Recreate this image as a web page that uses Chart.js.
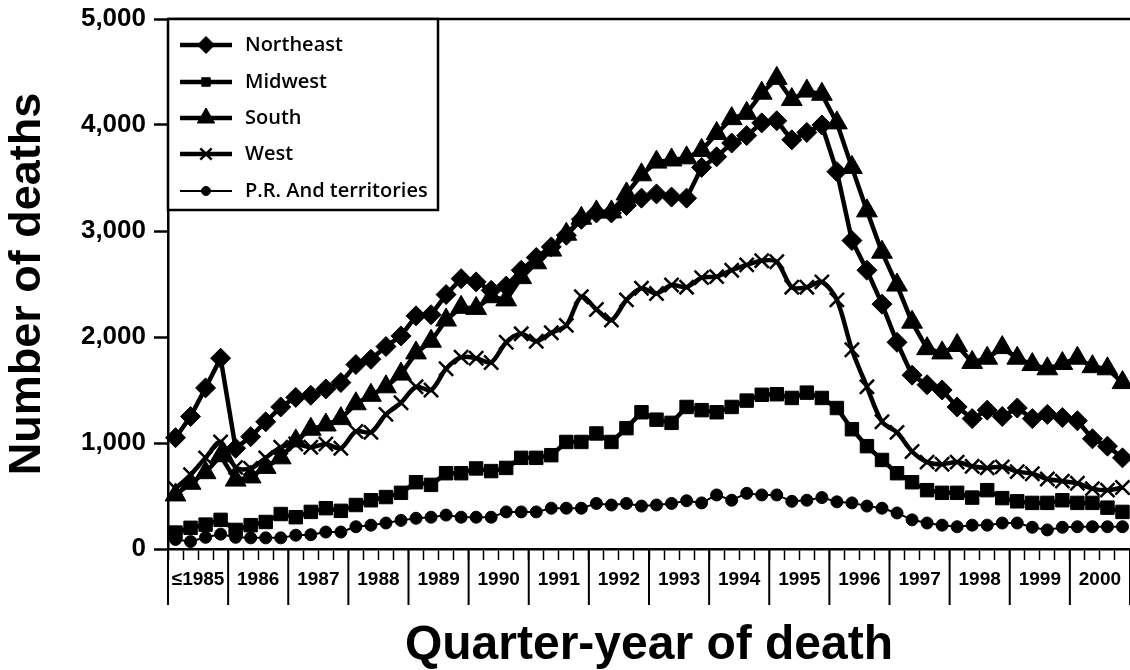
<!DOCTYPE html>
<html><head><meta charset="utf-8">
<script src="https://cdn.jsdelivr.net/npm/chart.js@4"></script>
<style>html,body{margin:0;padding:0;background:#fff;overflow:hidden;}canvas{display:block;}</style>
</head><body>
<canvas id="c" width="1130" height="670"></canvas>
<script>
// Year groups (four quarters each)
const years = ['≤1985','1986','1987','1988','1989','1990','1991','1992','1993','1994','1995','1996','1997','1998','1999','2000'];
const yTicks = [0, 1000, 2000, 3000, 4000, 5000];

const northeast = [1050,1250,1520,1800, 950,1060,1200,1340, 1430,1450,1510,1570, 1740,1790,1910,2010,
  2200,2210,2400,2550, 2520,2440,2480,2630, 2750,2850,2960,3110, 3170,3170,3240,3310,
  3350,3320,3310,3600, 3700,3830,3900,4020, 4040,3860,3930,4000, 3560,2910,2630,2310,
  1950,1640,1550,1500, 1340,1230,1310,1250, 1330,1230,1270,1240, 1210,1040,970,860];
const midwest = [155,200,230,275, 180,225,255,330, 300,350,385,360, 415,460,490,530,
  630,605,715,715, 760,735,765,860, 860,885,1010,1010, 1090,1010,1140,1290,
  1220,1190,1340,1310, 1290,1340,1400,1455, 1460,1425,1475,1425, 1330,1130,970,840,
  715,630,555,530, 530,485,555,480, 450,435,435,460, 435,435,390,350];
const south = [510,620,720,880, 650,680,770,860, 1020,1130,1170,1230, 1370,1450,1530,1650,
  1850,1960,2160,2280, 2270,2380,2350,2560, 2700,2820,2970,3120, 3180,3180,3350,3530,
  3650,3670,3690,3760, 3920,4060,4110,4300, 4440,4240,4320,4290, 4020,3600,3190,2800,
  2490,2140,1890,1850, 1920,1760,1800,1900, 1800,1740,1700,1750, 1800,1720,1700,1570];
const west = [570,700,860,1010, 770,760,860,960, 990,960,990,950, 1110,1100,1270,1380,
  1530,1500,1700,1810, 1800,1760,1950,2030, 1960,2040,2110,2380, 2260,2160,2350,2460,
  2410,2490,2470,2560, 2570,2630,2680,2720, 2710,2470,2470,2520, 2350,1880,1530,1200,
  1100,920,820,800, 820,780,765,775, 730,710,660,640, 620,570,555,580];
const prTerritories = [90,70,110,140, 110,105,105,105, 130,135,160,160, 210,225,245,270,
  290,300,320,300, 300,300,350,350, 350,385,385,385, 430,415,430,405,
  415,430,455,435, 510,460,525,510, 510,450,460,485, 445,435,405,385,
  340,275,245,225, 210,225,225,245, 245,205,180,205, 210,210,210,210];

const toXY = arr => arr.map((v, i) => ({x: i + 0.5, y: v}));
const BLACK = '#000';
const TICK_FONT = "'Liberation Sans', Arial, sans-serif";

function ds(label, data, style, radius, width, pbw, tension, legendRadius) {
  return {
    label, data: toXY(data), borderColor: BLACK, backgroundColor: BLACK,
    borderWidth: width, pointStyle: style, pointRadius: radius, pointHoverRadius: radius,
    pointBackgroundColor: BLACK, pointBorderColor: BLACK, pointBorderWidth: pbw,
    tension: tension, clip: false, legendRadius
  };
}

const datasets = [
  ds('Northeast', northeast, 'rectRot', 10, 4.5, 1, 0, 8.5),
  ds('Midwest', midwest, 'rect', 9.5, 4.5, 1, 0, 6),
  ds('South', south, 'triangle', 12, 4.5, 1, 0, 10),
  ds('West', west, 'crossRot', 10, 4.5, 2.5, 0.3, 8),
  ds('P.R. And territories', prTerritories, 'circle', 6, 2, 1, 0, 4.5)
];

const decorPlugin = {
  id: 'decor',
  afterDraw(chart) {
    const {ctx, chartArea: {left, right, top, bottom}, scales: {x}} = chart;
    ctx.save();
    ctx.strokeStyle = BLACK;
    ctx.lineCap = 'butt';
    // top frame line
    ctx.lineWidth = 2.5;
    ctx.beginPath(); ctx.moveTo(left, top); ctx.lineTo(right, top); ctx.stroke();
    // long year separators
    ctx.lineWidth = 2;
    for (let k = 0; k <= years.length; k++) {
      const px = x.getPixelForValue(4 * k);
      ctx.beginPath(); ctx.moveTo(px, bottom); ctx.lineTo(px, 605); ctx.stroke();
    }
    // legend box
    const bx = left, by = top, bw = 270, bh = 191;
    ctx.fillStyle = '#fff';
    ctx.fillRect(bx, by, bw, bh);
    ctx.lineWidth = 2.5;
    ctx.strokeRect(bx, by, bw, bh);
    const rows = [45, 82, 118, 154, 191];
    chart.data.datasets.forEach((d, i) => {
      const yy = rows[i];
      ctx.strokeStyle = BLACK; ctx.fillStyle = BLACK;
      ctx.lineWidth = d.borderWidth;
      ctx.beginPath(); ctx.moveTo(bx + 12, yy); ctx.lineTo(bx + 64, yy); ctx.stroke();
      ctx.lineWidth = d.pointBorderWidth;
      const opts = {pointStyle: d.pointStyle, radius: d.legendRadius, rotation: 0, borderWidth: d.pointBorderWidth};
      if (Chart.helpers && Chart.helpers.drawPoint) {
        Chart.helpers.drawPoint(ctx, opts, bx + 38, yy);
      }
      ctx.fillStyle = BLACK;
      ctx.font = "600 20px 'Open Sans', 'Liberation Sans', sans-serif";
      ctx.textBaseline = 'middle';
      ctx.textAlign = 'left';
      ctx.fillText(d.label, bx + 77, yy);
    });
    ctx.restore();
  }
};

new Chart(document.getElementById('c'), {
  type: 'line',
  data: {datasets},
  plugins: [decorPlugin],
  options: {
    responsive: false,
    devicePixelRatio: 1,
    animation: false,
    layout: {autoPadding: false, padding: {top: 19, left: 0, right: 0, bottom: 0}},
    plugins: {legend: {display: false}, tooltip: {enabled: false}},
    scales: {
      x: {
        type: 'linear', min: 0, max: 64, position: 'bottom',
        afterBuildTicks: s => { s.ticks = []; for (let i = 0; i <= 64; i++) s.ticks.push({value: i}); },
        ticks: {
          autoSkip: false, maxRotation: 0, minRotation: 0, padding: 8, color: BLACK,
          font: {family: TICK_FONT, weight: 'bold', size: 19},
          callback: v => (v % 4 === 2) ? years[(v - 2) / 4] : ''
        },
        grid: {drawOnChartArea: false, drawTicks: true, tickLength: 11, tickWidth: 1.5, tickColor: BLACK, color: BLACK},
        border: {display: true, color: BLACK, width: 2.5},
        title: {display: true, text: 'Quarter-year of death', color: BLACK,
          font: {family: TICK_FONT, weight: 'bold', size: 48, lineHeight: 1}, padding: {top: 0, bottom: 0}},
        afterFit: s => { s.height = 121; s.paddingLeft = 0; s.paddingRight = 0; }
      },
      y: {
        type: 'linear', min: 0, max: 5000,
        afterBuildTicks: s => { s.ticks = yTicks.map(v => ({value: v})); },
        ticks: {padding: 8, color: BLACK, font: {family: TICK_FONT, weight: 'bold', size: 26},
          callback: v => v.toLocaleString('en-US')},
        grid: {drawOnChartArea: false, drawTicks: true, tickLength: 14, tickWidth: 2.5, tickColor: BLACK, color: BLACK},
        border: {display: true, color: BLACK, width: 2.5},
        title: {display: true, text: 'Number of deaths', color: BLACK,
          font: {family: TICK_FONT, weight: 'bold', size: 45, lineHeight: 1}, padding: {top: 5, bottom: 0}},
        afterFit: s => { s.width = 168; s.paddingTop = 0; s.paddingBottom = 0; }
      }
    }
  }
});
</script>
</body></html>
